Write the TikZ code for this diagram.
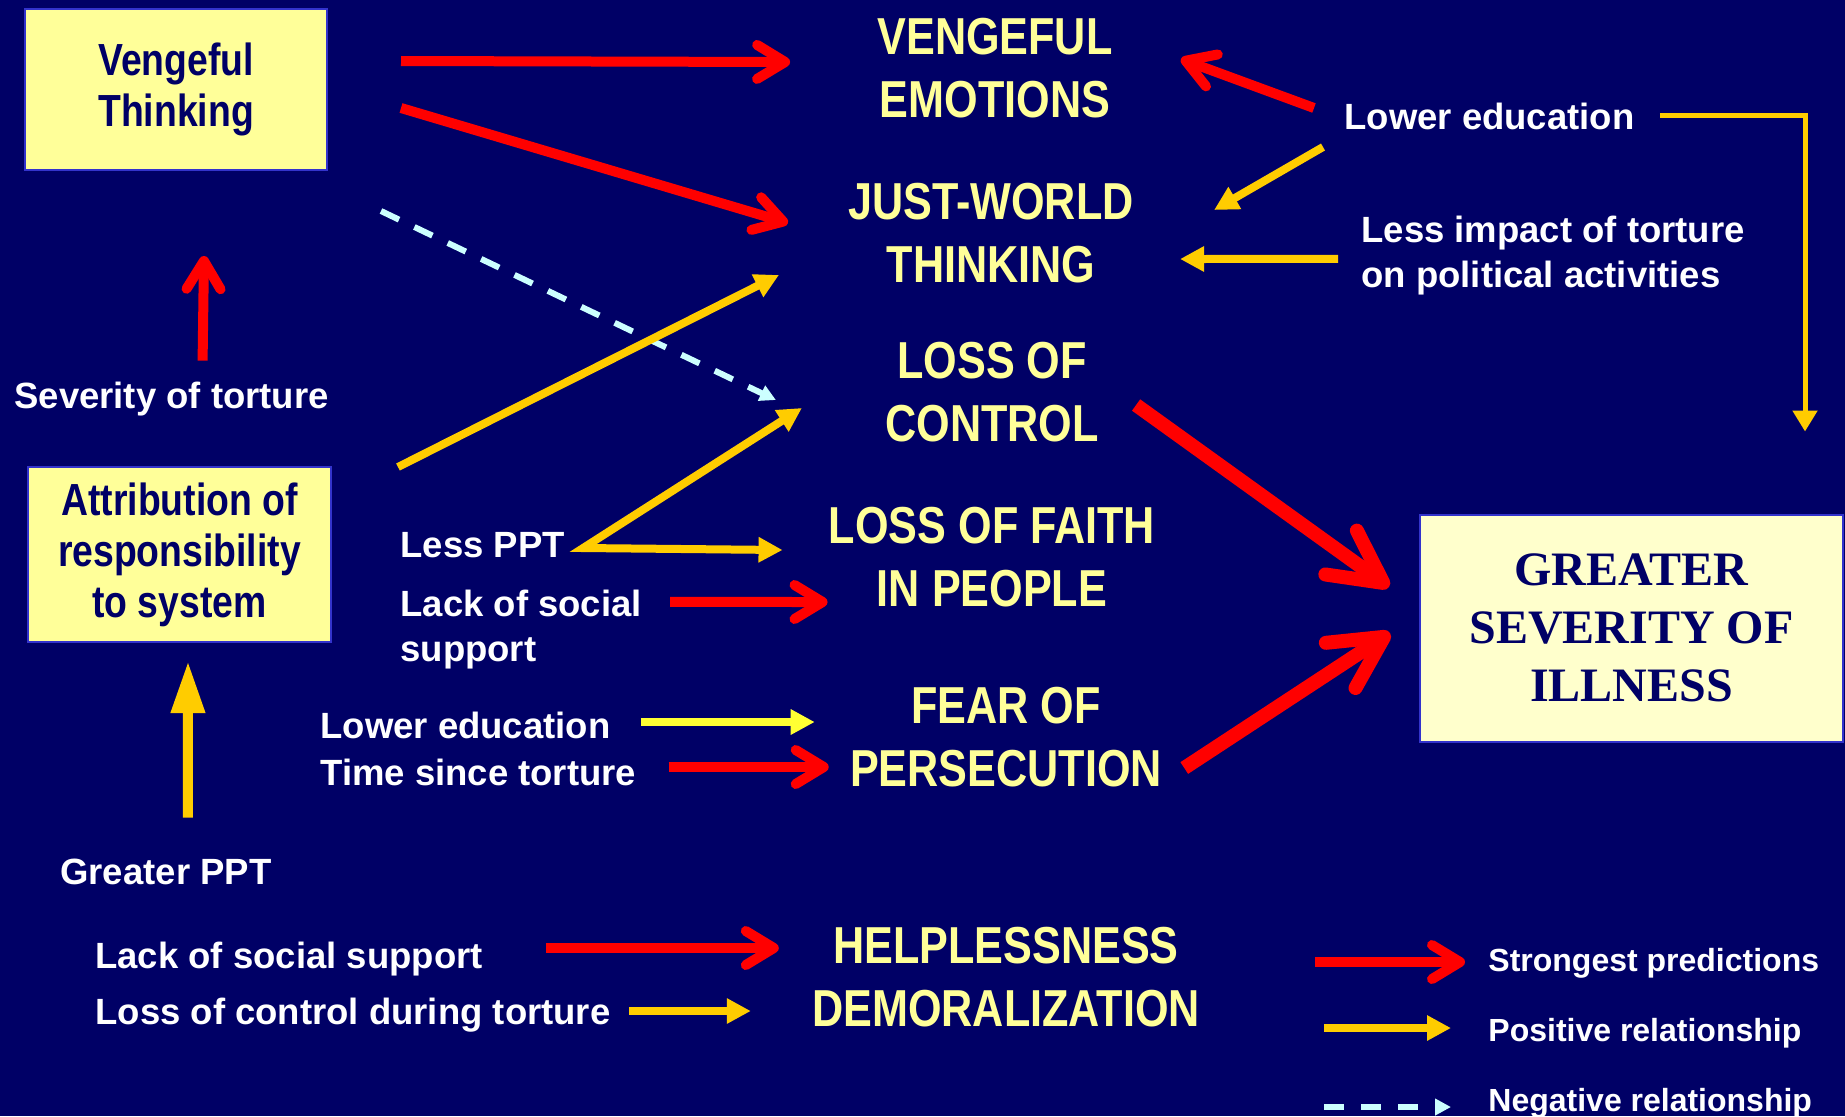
\documentclass[tikz,border=0pt]{standalone}
\usepackage{fontspec}
\setmainfont{Liberation Sans}
\newfontfamily\condfont[FakeStretch=0.83]{Liberation Sans}
\newfontfamily\serfont{Liberation Serif}
\usepackage{tikz}
\usetikzlibrary{arrows.meta, calc}

\definecolor{navy}{RGB}{0,0,102}
\definecolor{paleyel}{RGB}{255,255,153}
\definecolor{cream}{RGB}{255,255,204}
\definecolor{gold}{RGB}{255,204,0}
\definecolor{lemon}{RGB}{255,255,51}
\definecolor{ice}{RGB}{204,255,255}
\definecolor{rim}{RGB}{51,51,204}

\begin{document}
\begin{tikzpicture}[x=0.5pt, y=-0.5pt,
  box/.style   = {draw=rim, line width=1pt, fill=paleyel, text=navy, align=center,
                  font=\condfont\bfseries\fontsize{22.5}{25.5}\selectfont},
  ttl/.style   = {text=paleyel, align=center, inner sep=0pt,
                  font=\condfont\bfseries\fontsize{26}{31.5}\selectfont},
  lbl/.style   = {text=white, inner sep=0pt, anchor=base west, text height=13pt,
                  text depth=0pt, font=\bfseries\fontsize{18.25}{22.5}\selectfont},
  mlbl/.style  = {text=white, inner sep=0pt, anchor=north west, align=left,
                  font=\bfseries\fontsize{18.25}{22.5}\selectfont},
  lgd/.style   = {text=white, inner sep=0pt, anchor=base west, text height=11.5pt,
                  text depth=0pt, font=\bfseries\fontsize{16}{19}\selectfont},
  rd/.style    = {red, line width=5pt, -{Straight Barb[length=14pt,width=17pt,round]}},
  bigrd/.style = {red, line width=7pt, -{Straight Barb[length=26pt,width=27pt,round]}},
  yl/.style    = {gold, line width=4pt, -{Triangle[length=12pt,width=12pt]}},
  neg/.style   = {ice, line width=3pt, dash pattern=on 10pt off 8.5pt,
                  -{Triangle[length=8pt,width=8pt]}}
]
  \fill[navy] (0,0) rectangle (1845,1116);
  \useasboundingbox (0,0) rectangle (1845,1116);

  % boxes
  \node[box, minimum width=151pt, minimum height=80.5pt] (vt) at (176,89.5)
      {Vengeful\\Thinking};
  \node[box, minimum width=151.5pt, minimum height=87.5pt] (ar) at (179.5,554.5)
      {Attribution of\\responsibility\\to system};
  \node[box, fill=cream, minimum width=211.5pt, minimum height=113.5pt,
        font=\serfont\bfseries\fontsize{24}{29}\selectfont] (gs) at (1631.5,628)
      {GREATER\\SEVERITY OF\\ILLNESS};

  % outcomes
  \node[ttl] (ve) at (995,68.5)   {VENGEFUL\\EMOTIONS};
  \node[ttl] (jw) at (991,233)    {JUST-WORLD\\THINKING};
  \node[ttl] (lc) at (992,392)    {LOSS OF\\CONTROL};
  \node[ttl] (lf) at (992,557.5)  {LOSS OF FAITH\\IN PEOPLE};
  \node[ttl] (fp) at (1006,737)   {FEAR OF\\PERSECUTION};
  \node[ttl] (hd) at (1006,977.5) {HELPLESSNESS\\DEMORALIZATION};

  % predictors
  \node[lbl]  (sev) at (14,408)   {Severity of torture};
  \node[lbl]  (le1) at (1344,129) {Lower education};
  \node[mlbl] (li)  at (1361,216) {Less impact of torture\\on political activities};
  \node[lbl]  (lp)  at (400,557)  {Less PPT};
  \node[mlbl] (ls)  at (400,590)  {Lack of social\\support};
  \node[lbl]  (le2) at (320,738)  {Lower education};
  \node[lbl]  (ts)  at (320,785)  {Time since torture};
  \node[lbl]  (gp)  at (60,884)   {Greater PPT};
  \node[lbl]  (lss) at (95,968)   {Lack of social support};
  \node[lbl]  (lcd) at (95,1024)  {Loss of control during torture};

  % legend
  \node[lgd] (st) at (1488,971)  {Strongest predictions};
  \node[lgd] (po) at (1488,1041) {Positive relationship};
  \node[lgd] (ne) at (1488,1111) {Negative relationship};

  % links
  \draw[rd] ($(vt.east)+(73,-28.5)$) -- ($(ve.west)+(-87,-6.5)$);
  \draw[rd] ($(vt.east)+(73,18.5)$) -- ($(jw.west)+(-60,-10)$);
  \draw[rd] ($(sev.north)+(31,-21)$) -- ($(vt.south)+(28,85)$);
  \draw[neg] ($(vt.south east)+(53,40)$) -- ($(lc.west)+(-109,8)$);
  \draw[yl] ($(ar.north east)+(66,1)$) -- ($(jw.west)+(-69,42)$);
  \draw[yl, line width=5pt, -{Triangle[length=26pt,width=16pt]}]
        ($(gp.north)+(22,-40)$) -- ($(ar.south)+(8.5,18)$);
  \draw[yl, {Triangle[length=12pt,width=12pt]}-{Triangle[length=12pt,width=12pt]}]
        ($(lc.west)+(-83,16)$) -- ($(lp.east)+(18,4)$) -- ($(lf.west)+(-46,-7.5)$);
  \draw[rd] ($(ls.east)+(28,-28)$) -- ($(lf.west)+(-1,44.5)$);
  \draw[yl, lemon] ($(le2.east)+(30,-3)$) -- ($(fp.west)+(-35,-15)$);
  \draw[rd] ($(ts.east)+(32,-5)$) -- ($(fp.west)+(-21,30)$);
  \draw[bigrd] ($(lc.east)+(37,13)$) -- ($(gs.west)+(-30,-41)$);
  \draw[bigrd] ($(fp.east)+(22,31)$) -- ($(gs.west)+(-29,5)$);
  \draw[rd] ($(le1.west)+(-30,-8)$) -- ($(ve.east)+(68,-9.5)$);
  \draw[yl] ($(le1.west)+(-21,31)$) -- ($(jw.east)+(80,-23)$);
  \draw[yl] ($(li.west)+(-23,3)$) -- ($(jw.east)+(46,26)$);
  \draw[yl, line width=2.5pt, -{Triangle[length=10.5pt,width=12pt]}]
        ($(le1.east)+(25,-1)$) -| ($(gs.north east)+(-39,-82)$);
  \draw[rd] ($(lss.east)+(63,-7)$) -- ($(hd.west)+(-33,-29.5)$);
  \draw[yl] ($(lcd.east)+(18,0)$) -- ($(hd.west)+(-61,33.5)$);

  % legend keys
  \draw[rd]  ($(st.west)+(-173,2.5)$) -- ($(st.west)+(-23,2.5)$);
  \draw[yl]  ($(po.west)+(-164,-1.5)$) -- ($(po.west)+(-37,-1.5)$);
  \draw[neg] ($(ne.west)+(-164,7.5)$) -- ($(ne.west)+(-37,7.5)$);
\end{tikzpicture}
\end{document}
